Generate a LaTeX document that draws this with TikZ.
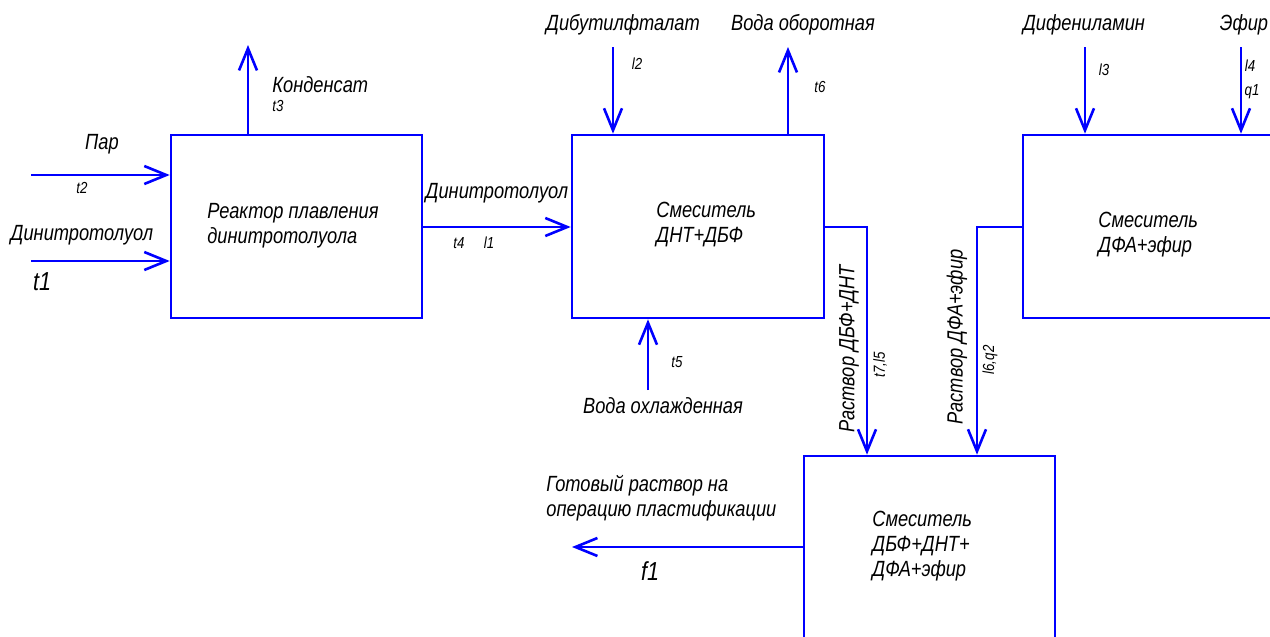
\documentclass[tikz,border=0pt]{standalone}
\usepackage{fontspec}
\setmainfont{Liberation Sans}[FakeStretch=0.83]
\usetikzlibrary{arrows.meta}
\definecolor{lineblue}{RGB}{0,0,255}
\begin{document}
\begin{tikzpicture}[x=0.5pt,y=-0.5pt,
  box/.style={draw=lineblue,line width=1.3pt,inner sep=0pt,
    font=\itshape\fontsize{11}{12.5}\selectfont,align=left},
  flow/.style={draw=lineblue,line width=1.3pt,
    -{Straight Barb[length=11pt,width=9pt,line width=1.3pt]}},
  lbl/.style={inner sep=0pt,font=\itshape\fontsize{11}{12.5}\selectfont,align=left},
  idx/.style={inner sep=0pt,font=\itshape\fontsize{8}{9}\selectfont},
  big/.style={inner sep=0pt,font=\itshape\fontsize{13}{14}\selectfont}]
\useasboundingbox (0,0) rectangle (1270,637);
\clip (0,0) rectangle (1270,637);

% process units
\node[box,minimum width=125.5pt,minimum height=91.5pt] (r1) at (296.5,226.5) {};
\node[box,minimum width=126pt,minimum height=91.5pt] (r2) at (698,226.5) {};
\node[box,minimum width=148.5pt,minimum height=91.5pt] (r3) at (1171.5,226.5) {};
\node[box,minimum width=125.5pt,minimum height=132pt] (r4) at (929.5,588) {};

\node[lbl,anchor=west] (t-r1) at (207,226) {Реактор плавления\\динитротолуола};
\node[lbl,anchor=west] (t-r2) at (656,225) {Смеситель\\ДНТ+ДБФ};
\node[lbl,anchor=west] (t-r3) at (1098,235) {Смеситель\\ДФА+эфир};
\node[lbl,anchor=west] (t-r4) at (872,546) {Смеситель\\ДБФ+ДНТ+\\ДФА+эфир};

% free ends of the streams
\coordinate (cond) at (248,45);
\coordinate (par) at (31,175);
\coordinate (dnt) at (31,261);
\coordinate (dbf) at (613,47);
\coordinate (wret) at (788,47);
\coordinate (wcold) at (648,390);
\coordinate (dfa) at (1085,47);
\coordinate (eth) at (1241,47);
\coordinate (prod) at (572,547);
\coordinate (bend1) at (867,227);
\coordinate (bend2) at (977,227);

% streams
\draw[flow] (r1.north -| cond) -- (cond);
\draw[flow] (par) -- (par -| r1.west);
\draw[flow] (dnt) -- (dnt -| r1.west);
\draw[flow] (r1.east |- bend1) -- (r2.west |- bend1);
\draw[flow] (dbf) -- (dbf |- r2.north);
\draw[flow] (r2.north -| wret) -- (wret);
\draw[flow] (wcold) -- (wcold |- r2.south);
\draw[flow] (r2.east |- bend1) -- (bend1) -- (bend1 |- r4.north);
\draw[flow] (r3.west |- bend2) -- (bend2) -- (bend2 |- r4.north);
\draw[flow] (dfa) -- (dfa |- r3.north);
\draw[flow] (eth) -- (eth |- r3.north);
\draw[flow] (r4.west |- prod) -- (prod);

% stream labels
\node[lbl,anchor=west] (l-cond) at (272,85) {Конденсат};
\node[idx,anchor=west] (i-t3) at (272,106) {t3};
\node[lbl] (l-par) at (102,144) {Пар};
\node[idx] (i-t2) at (82,188) {t2};
\node[lbl] (l-dnt) at (82,235) {Динитротолуол};
\node[big] (i-t1) at (42,282) {t1};
\node[lbl] (l-dnt2) at (497,193) {Динитротолуол};
\node[idx] (i-t4) at (459,243) {t4};
\node[idx] (i-l1) at (489,243) {l1};
\node[lbl] (l-dbf) at (623,25) {Дибутилфталат};
\node[idx] (i-l2) at (637,64) {l2};
\node[lbl] (l-wret) at (803,25) {Вода оборотная};
\node[idx] (i-t6) at (820,87) {t6};
\node[idx] (i-t5) at (677,362) {t5};
\node[lbl] (l-wcold) at (663,406) {Вода охлажденная};
\node[lbl,rotate=90] (l-s1) at (849,349) {Раствор ДБФ+ДНТ};
\node[idx,rotate=90] (i-s1) at (880,365) {t7,l5};
\node[lbl,rotate=90] (l-s2) at (957,337) {Раствор ДФА+эфир};
\node[idx,rotate=90] (i-s2) at (990,360) {l6,q2};
\node[lbl] (l-dfa) at (1084,25) {Дифениламин};
\node[idx] (i-l3) at (1104,70) {l3};
\node[lbl] (l-eth) at (1244,25) {Эфир};
\node[idx] (i-l4) at (1250,66) {l4};
\node[idx] (i-q1) at (1252,92) {q1};
\node[lbl,anchor=west] (l-prod) at (546,498) {Готовый раствор на\\операцию пластификации};
\node[big] (i-f1) at (650,571) {f1};
\end{tikzpicture}
\end{document}
